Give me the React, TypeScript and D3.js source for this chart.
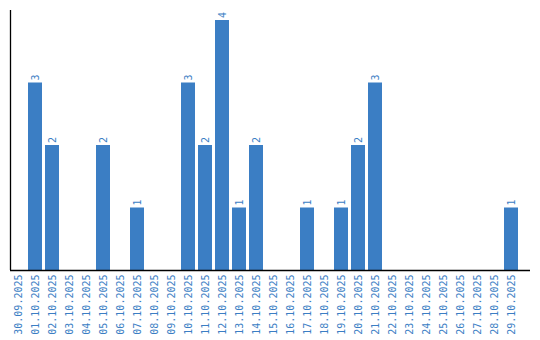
import React from "react";
import * as d3 from "d3";

const dates = [
  "30.09.2025", "01.10.2025", "02.10.2025", "03.10.2025", "04.10.2025",
  "05.10.2025", "06.10.2025", "07.10.2025", "08.10.2025", "09.10.2025",
  "10.10.2025", "11.10.2025", "12.10.2025", "13.10.2025", "14.10.2025",
  "15.10.2025", "16.10.2025", "17.10.2025", "18.10.2025", "19.10.2025",
  "20.10.2025", "21.10.2025", "22.10.2025", "23.10.2025", "24.10.2025",
  "25.10.2025", "26.10.2025", "27.10.2025", "28.10.2025", "29.10.2025",
];
const counts = [0, 3, 2, 0, 0, 2, 0, 1, 0, 0, 3, 2, 4, 1, 2, 0, 0, 1, 0, 1, 2, 3, 0, 0, 0, 0, 0, 0, 0, 1];

const W = 540;
const H = 340;
const BAR = "#3b7ec4";
const FONT = "'DejaVu Sans Mono', monospace";

export default function App() {
  const x = d3.scaleBand<string>().domain(dates).range([11, 518]).paddingInner(3 / 17).paddingOuter(0);
  const y = d3.scaleLinear().domain([0, 4]).range([270, 20]);
  return (
    <svg width={W} height={H} style={{ position: "absolute", left: 0, top: 0, background: "#fff" }}>
      {dates.map((d, i) => {
        const v = counts[i];
        const bx = x(d)!;
        const cx = bx + x.bandwidth() / 2;
        return (
          <g key={d}>
            {v > 0 && (
              <>
                <rect x={bx} y={y(v)} width={x.bandwidth()} height={y(0) - y(v)} fill={BAR} />
                <text
                  transform={`translate(${cx},${y(v) - 2}) rotate(-90)`}
                  textAnchor="start"
                  dy="0.35em"
                  fontFamily={FONT}
                  fontSize={10}
                  fill={BAR}
                >
                  {v}
                </text>
              </>
            )}
            <text
              transform={`translate(${cx},274.5) rotate(-90)`}
              textAnchor="end"
              dy="0.35em"
              fontFamily={FONT}
              fontSize={10}
              fill={BAR}
            >
              {d}
            </text>
          </g>
        );
      })}
      <line x1={10.5} x2={10.5} y1={10} y2={270} stroke="#000" strokeWidth={1.3} />
      <line x1={10} x2={530} y1={270.5} y2={270.5} stroke="#000" strokeWidth={1.3} />
    </svg>
  );
}
